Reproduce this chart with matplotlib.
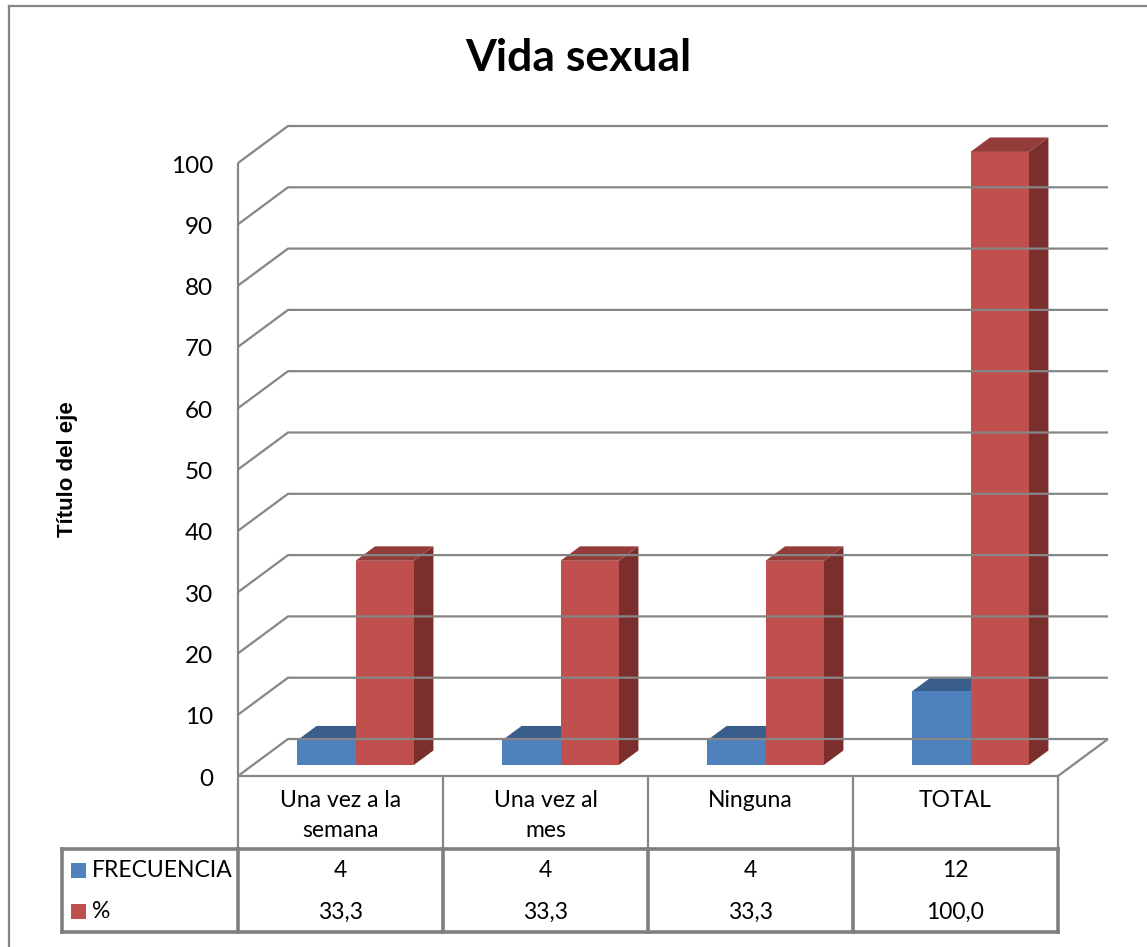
import numpy as np
from matplotlib import pyplot as plt
from matplotlib.patches import Polygon, Rectangle

categorias = ['Una vez a la\nsemana', 'Una vez al\nmes', 'Ninguna', 'TOTAL']
frecuencia = [4, 4, 4, 12]
porcentaje = [33.3, 33.3, 33.3, 100.0]
series = ['FRECUENCIA', '%']
etiquetas_frec = ['4', '4', '4', '12']
etiquetas_pct = ['33,3', '33,3', '33,3', '100,0']
yticks = list(range(0, 101, 10))

FONT = 'Lato'
FS = 16.5
W, H = 1147, 947

# colores (frente, lado, tapa)
azul = ('#4F81BD', '#3A6190', '#395E8B')
rojo = ('#C0504D', '#7A2F2D', '#943C3A')
gris = '#868686'

# profundidad 3D en unidades de datos
DX = 50 / 205       # desplazamiento horizontal de la pared de fondo
DY = 37 / 6.13      # desplazamiento vertical de la pared de fondo
BAR_Z0 = 0.30       # posición de la cara frontal de las barras (fracción de profundidad)
BAR_DZ = 0.39       # profundidad de las barras
BAR_W = 0.285       # ancho de cada barra (fracción de categoría)


def fx(px):
    return px / W


def fy(py):
    return 1 - py / H


fig = plt.figure(figsize=(W / 100, H / 100), dpi=100)
fig.patch.set_facecolor('white')

# marco exterior (solo izquierda y arriba visibles)
fig.add_artist(plt.Line2D([fx(9), fx(9)], [fy(6), 0], color=gris, lw=1.6))
fig.add_artist(plt.Line2D([fx(9), 1], [fy(6), fy(6)], color=gris, lw=1.6))

ax = fig.add_axes([fx(238), fy(776), fx(1058) - fx(238), fy(163) - fy(776)])
ax.set_xlim(0, len(categorias))
ax.set_ylim(0, 100)
ax.axis('off')

n = len(categorias)
grid_kw = dict(color=gris, lw=1.6, clip_on=False, solid_capstyle='butt')

# pared de fondo + pared lateral
for v in yticks:
    ax.plot([0, DX, n + DX], [v, v + DY, v + DY], **grid_kw)
# suelo
ax.plot([0, n, n + DX], [0, 0, DY], **grid_kw)
# eje vertical frontal
ax.plot([0, 0], [0, 100], **grid_kw)

for v in yticks:
    ax.text(-25 / 205, v - 0.5, str(v), ha='right', va='center', fontsize=17.5,
            family=FONT, color='black')


def barra(ax, x0, altura, colores):
    fr, lado, tapa = colores
    ox, oy = BAR_Z0 * DX, BAR_Z0 * DY
    dx, dy = BAR_DZ * DX, BAR_DZ * DY
    x1 = x0 + BAR_W
    frente = [(x0 + ox, oy), (x1 + ox, oy), (x1 + ox, altura + oy), (x0 + ox, altura + oy)]
    derecha = [(x1 + ox, oy), (x1 + ox + dx, oy + dy), (x1 + ox + dx, altura + oy + dy),
               (x1 + ox, altura + oy)]
    arriba = [(x0 + ox, altura + oy), (x1 + ox, altura + oy), (x1 + ox + dx, altura + oy + dy),
              (x0 + ox + dx, altura + oy + dy)]
    ax.add_patch(Polygon(derecha, closed=True, fc=lado, ec='none', clip_on=False))
    ax.add_patch(Polygon(arriba, closed=True, fc=tapa, ec='none', clip_on=False))
    ax.add_patch(Polygon(frente, closed=True, fc=fr, ec='none', clip_on=False))


for i in range(n):
    inicio = i + 0.5 - BAR_W
    barra(ax, inicio, frecuencia[i], azul)
    barra(ax, inicio + BAR_W, porcentaje[i], rojo)

# título
fig.text(fx(578), fy(58), 'Vida sexual', ha='center', va='center', fontsize=32,
         fontweight='bold', family=FONT)
fig.text(fx(68), fy(469), 'Título del eje', ha='center', va='center', rotation=90,
         fontsize=16, fontweight='bold', family='Liberation Sans')

# tabla de datos
tab = fig.add_axes([fx(62), fy(932), fx(1058) - fx(62), fy(776) - fy(932)])
x_leg = -(238 - 62) / 205
tab.set_xlim(x_leg, n)
tab.set_ylim(932, 776)
tab.axis('off')
t_kw = dict(color=gris, lw=1.6, clip_on=False, solid_capstyle='butt')
t_kw2 = dict(color='#7F7F7F', lw=2.6, clip_on=False, solid_capstyle='projecting')

for i in range(n + 1):
    tab.plot([i, i], [776, 849], **t_kw)
    tab.plot([i, i], [849, 932], **t_kw2)
tab.plot([x_leg, n], [849, 849], **t_kw2)
tab.plot([x_leg, n], [932, 932], **t_kw2)
tab.plot([x_leg, x_leg], [849, 932], **t_kw2)

for i, c in enumerate(categorias):
    tab.text(i + 0.5, 790, c, ha='center', va='top', fontsize=FS, family=FONT,
             linespacing=1.5)
    tab.text(i + 0.5, 870, etiquetas_frec[i], ha='center', va='center', fontsize=FS,
             family=FONT)
    tab.text(i + 0.5, 912, etiquetas_pct[i], ha='center', va='center', fontsize=FS,
             family=FONT)

key_w = 15 / 205
for j, (nombre, col, yy) in enumerate(zip(series, [azul[0], rojo[0]], [870, 911])):
    tab.add_patch(Rectangle((x_leg + 9 / 205, yy - 7.5), key_w, 15, fc=col, ec='none',
                            clip_on=False))
    tab.text(x_leg + 30 / 205, yy, nombre, ha='left', va='center', fontsize=FS,
             family=FONT)

fig.savefig('out.png', dpi=100, facecolor='white')
